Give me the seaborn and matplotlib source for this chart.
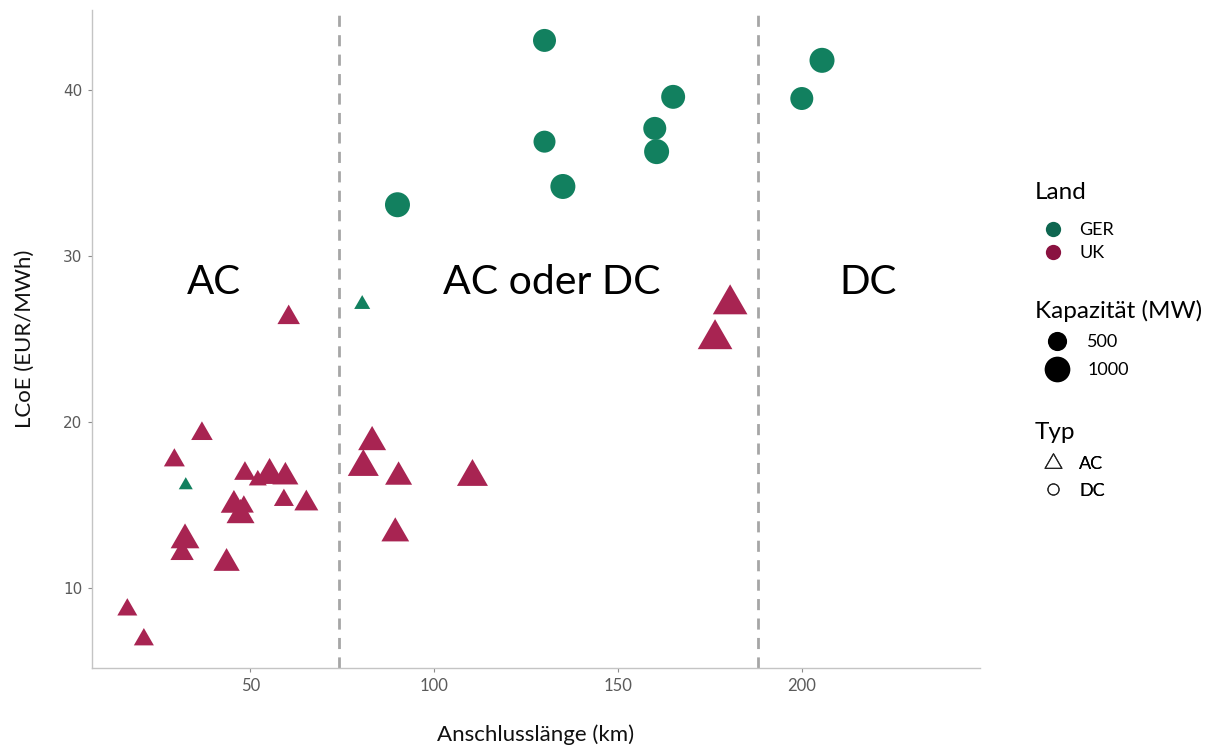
import matplotlib.pyplot as plt
import seaborn as sns
import numpy as np
import pandas as pd
from matplotlib.path import Path
from matplotlib.lines import Line2D

# GER, DC-Anbindung
ger_dc_len = [130, 205.5, 165, 200, 160, 160.5, 130, 135, 90]
ger_dc_lcoe = [43.0, 41.8, 39.6, 39.5, 37.7, 36.3, 36.9, 34.2, 33.1]
ger_dc_cap = [774, 940, 850, 774, 774, 938, 697, 938, 938]

# GER, AC-Anbindung
ger_ac_len = [80.4, 32.4]
ger_ac_lcoe = [27.1, 16.2]
ger_ac_cap = [114, 57]

# UK, AC-Anbindung
uk_ac_len = [60.4, 36.8, 29.3, 48.5, 52.0, 55.2, 59.5, 59.1, 65.2, 45.5, 48.2, 47.3,
             32.2, 31.4, 43.5, 16.5, 21.0, 83.1, 80.7, 90.3, 110.4, 89.4, 180.5, 176.4]
uk_ac_lcoe = [26.3, 19.3, 17.7, 16.9, 16.5, 16.8, 16.7, 15.3, 15.1, 15.0, 14.9, 14.4,
              12.9, 12.1, 11.5, 8.7, 6.9, 18.8, 17.3, 16.7, 16.7, 13.3, 27.1, 25.0]
uk_ac_cap = [350, 310, 287, 310, 176, 720, 510, 250, 414, 525, 250, 610,
             650, 385, 525, 250, 250, 609, 776, 558, 776, 600, 1229, 1300]

regions = ["AC", "AC oder DC", "DC"]
borders = [74, 188]

colors = {"GER": "#12805F", "UK": "#A82452"}
legend_colors = {"GER": "#0E6650", "UK": "#8A1240"}

df = pd.DataFrame({
    "Anschlusslänge": ger_dc_len + ger_ac_len + uk_ac_len,
    "LCoE": ger_dc_lcoe + ger_ac_lcoe + uk_ac_lcoe,
    "Kapazität": ger_dc_cap + ger_ac_cap + uk_ac_cap,
    "Land": ["GER"] * (len(ger_dc_len) + len(ger_ac_len)) + ["UK"] * len(uk_ac_len),
    "Typ": ["DC"] * len(ger_dc_len) + ["AC"] * (len(ger_ac_len) + len(uk_ac_len)),
})

sns.set_style("white")
plt.rcParams["font.family"] = ["Lato", "DejaVu Sans"]
plt.rcParams["text.color"] = "black"
plt.rcParams["axes.labelcolor"] = "#111111"

# gleichseitiges Dreieck (wie ggplot shape 17)
tri = Path([(0, 1), (0.866, -0.5), (-0.866, -0.5), (0, 1)],
           [Path.MOVETO, Path.LINETO, Path.LINETO, Path.CLOSEPOLY])

fig, ax = plt.subplots(figsize=(12.11, 7.47), dpi=100)
fig.subplots_adjust(left=0.076, right=0.809, bottom=0.106, top=0.987)

size_norm = (0, 1000)
sns.scatterplot(data=df[df["Typ"] == "DC"], x="Anschlusslänge", y="LCoE",
                hue="Land", palette=colors, size="Kapazität",
                sizes=(38.7, 342.7), size_norm=size_norm,
                marker="o", linewidth=0, legend=False, ax=ax)
sns.scatterplot(data=df[df["Typ"] == "AC"], x="Anschlusslänge", y="LCoE",
                hue="Land", palette=colors, size="Kapazität",
                sizes=(38.7 * 2.418, 342.7 * 2.418), size_norm=size_norm,
                marker=tri, linewidth=0, legend=False, ax=ax)

for b in borders:
    ax.axvline(b, color="#A6A6A6", linestyle=(0, (4, 3)), linewidth=2)

ax.text(40, 27.7, regions[0], fontsize=29, ha="center", va="baseline")
ax.text(132, 27.7, regions[1], fontsize=29.5, ha="center", va="baseline")
ax.text(218, 27.7, regions[2], fontsize=29, ha="center", va="baseline")

ax.set_xlim(6.9, 248.4)
ax.set_ylim(5.2, 44.85)
ax.set_xticks([50, 100, 150, 200])
ax.set_yticks([10, 20, 30, 40])
ax.set_xlabel("Anschlusslänge (km)", fontsize=16, labelpad=22)
ax.set_ylabel("LCoE (EUR/MWh)", fontsize=16, labelpad=20)
ax.tick_params(axis="both", length=3, width=0.8, color="#8C8C8C",
               labelcolor="#5A5A5A", labelsize=12, pad=4, bottom=True, left=True)
for lab in ax.get_yticklabels():
    lab.set_family("DejaVu Sans")
    lab.set_fontsize(11)

sns.despine(ax=ax)
for s in ["left", "bottom"]:
    ax.spines[s].set_color("#C4C4C4")
    ax.spines[s].set_linewidth(1)


def add_legend(title, handles, labels, title_y, left, top, spacing, textpad):
    fig.text(0.8547, title_y, title, fontsize=17.5, ha="left", va="center")
    leg = ax.legend(handles, labels, loc="upper left",
                    bbox_to_anchor=(left, top), bbox_transform=fig.transFigure,
                    frameon=False, fontsize=13, borderpad=0, borderaxespad=0,
                    handletextpad=textpad, labelspacing=spacing, handlelength=1.3)
    ax.add_artist(leg)


land_handles = [Line2D([], [], marker="o", linestyle="", markersize=11,
                       markerfacecolor=legend_colors[k], markeredgewidth=0)
                for k in ["GER", "UK"]]
add_legend("Land", land_handles, ["GER", "UK"], 0.7417, 0.8596, 0.7028, 0.38, 0.82)

cap_handles = [Line2D([], [], marker="o", linestyle="", color="black",
                      markersize=np.sqrt(38.7 + 0.3040 * c), markeredgewidth=0)
               for c in [500, 1000]]
add_legend("Kapazität (MW)", cap_handles, ["500", "1000"], 0.5837, 0.8629, 0.5530, 0.68, 1.05)

typ_handles = [Line2D([], [], marker=tri, linestyle="", markersize=14,
                      markerfacecolor="none", markeredgecolor="#222222", markeredgewidth=0.8),
               Line2D([], [], marker="o", linestyle="", markersize=8,
                      markerfacecolor="none", markeredgecolor="#222222", markeredgewidth=0.8)]
add_legend("Typ", typ_handles, ["AC", "DC"], 0.4204, 0.8596, 0.3895, 0.58, 0.82)

fig.savefig("out.png", dpi=100)
